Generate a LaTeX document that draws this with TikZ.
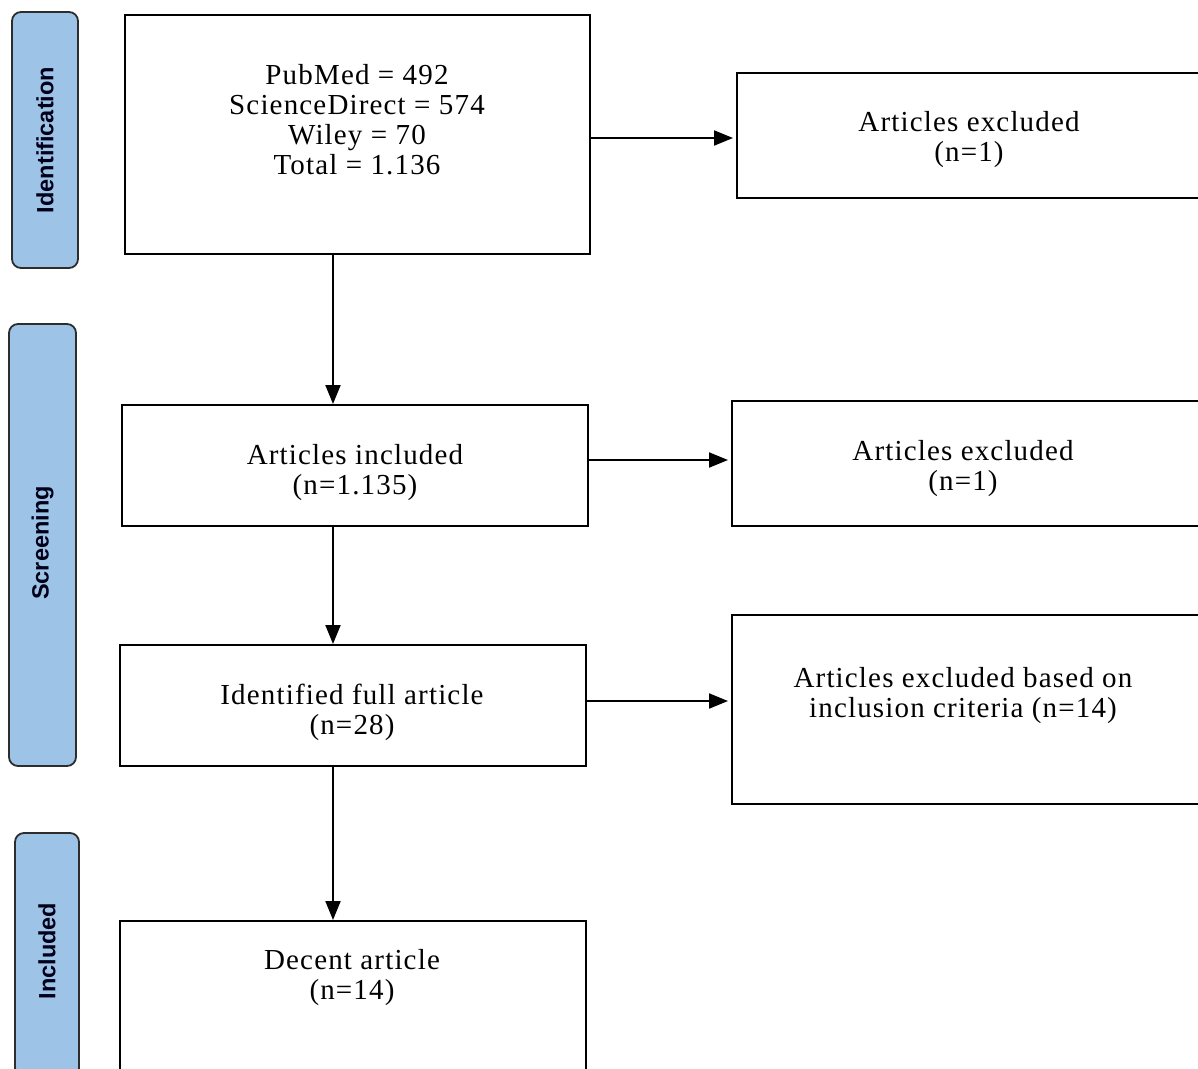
\documentclass[tikz,border=0pt]{standalone}
\usepackage{fontspec}
\setmainfont{Liberation Serif}[LetterSpace=4]
\newfontfamily\sidefont{Liberation Sans}
\usetikzlibrary{arrows.meta,positioning,calc}
\definecolor{sideblue}{RGB}{157,195,230}
\definecolor{sideedge}{RGB}{45,45,45}
\tikzset{
  flowbox/.style={draw=black, line width=2pt, fill=white, inner sep=0pt},
  boxtext/.style={align=center, font=\fontsize{29}{30}\selectfont, inner sep=0pt},
  sidebox/.style={draw=sideedge, line width=1.8pt, fill=sideblue, rounded corners=9pt, inner sep=0pt},
  sidetext/.style={rotate=90, font=\sidefont\bfseries\fontsize{23.5}{26}\selectfont, text=black!90!blue, inner sep=0pt},
  flowarrow/.style={line width=2pt, -{Triangle[length=19pt,width=15pt]}},
}
\begin{document}
\begin{tikzpicture}[x=1pt,y=-1pt]
\clip (0,0) rectangle (1198,1068);
\fill[white] (0,0) rectangle (1198,1068);
% side labels
\node[sidebox, minimum width=66pt, minimum height=256pt] (sidA) at (45,140) {};
\node[sidetext] (sidAt) at (sidA.center) {Identification};
\node[sidebox, minimum width=67pt, minimum height=442pt] (sidB) at (42.5,545) {};
\node[sidetext] (sidBt) at (42.5,543) {Screening};
\node[sidebox, minimum width=64pt, minimum height=244pt] (sidC) at (47,955) {};
\node[sidetext] (sidCt) at (47,951) {Included};
% main column boxes
\node[flowbox, minimum width=465pt, minimum height=239pt] (b1) at (357.5,134.5) {};
\node[boxtext] (t1) at (357,120) {PubMed = 492\\ScienceDirect = 574\\Wiley = 70\\Total = 1.136};
\node[flowbox, minimum width=466pt, minimum height=121pt] (b2) at (355,465.5) {};
\node[boxtext] (t2) at (355,473) {Articles included\\(n=1.135)};
\node[flowbox, minimum width=466pt, minimum height=121pt] (b3) at (353,705.5) {};
\node[boxtext] (t3) at (352,712) {Identified full article\\(n=28)};
\node[flowbox, minimum width=466pt, minimum height=160pt] (b4) at (353,1001) {};
\node[boxtext] (t4) at (352,978) {Decent article\\(n=14)};
% right column boxes
\node[flowbox, minimum width=466pt, minimum height=125pt] (r1) at (970,135.5) {};
\node[boxtext] (tr1) at (969,140) {Articles excluded\\(n=1)};
\node[flowbox, minimum width=471pt, minimum height=125pt] (r2) at (967.5,463.5) {};
\node[boxtext] (tr2) at (963,469) {Articles excluded\\(n=1)};
\node[flowbox, minimum width=471pt, minimum height=189pt] (r3) at (967.5,709.5) {};
\node[boxtext] (tr3) at (963,696) {Articles excluded based on\\inclusion criteria (n=14)};
% arrows
\draw[flowarrow] (b1.south -| 333,0) -- (b2.north -| 333,0);
\draw[flowarrow] (b2.south -| 333,0) -- (b3.north -| 333,0);
\draw[flowarrow] (b3.south -| 333,0) -- (b4.north -| 333,0);
\draw[flowarrow, shorten >=3pt] (b1.east |- 0,138) -- (r1.west |- 0,138);
\draw[flowarrow, shorten >=3pt] (b2.east |- 0,460) -- (r2.west |- 0,460);
\draw[flowarrow, shorten >=3pt] (b3.east |- 0,701) -- (r3.west |- 0,701);
\end{tikzpicture}
\end{document}
